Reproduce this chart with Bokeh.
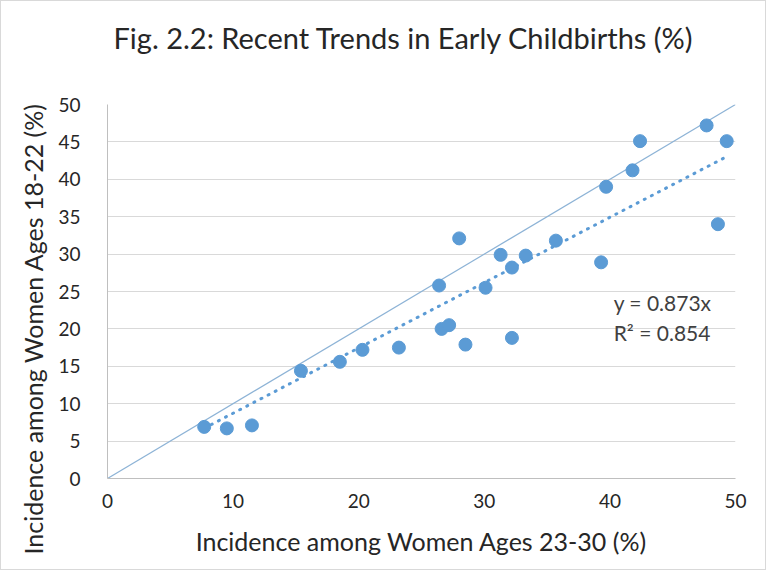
from bokeh.plotting import figure
from bokeh.models import Range1d, FixedTicker, ColumnDataSource, Label, Title
from bokeh.embed import file_html
from bokeh.resources import INLINE

# Data
x_vals = [7.7, 9.5, 11.5, 15.4, 18.5, 20.3, 23.2, 26.4, 26.6, 27.2, 28.0, 28.5, 30.1,
          31.3, 32.2, 32.2, 33.3, 35.7, 39.3, 39.7, 41.8, 42.4, 47.7, 48.6, 49.3]
y_vals = [6.9, 6.7, 7.1, 14.4, 15.6, 17.2, 17.5, 25.8, 20.0, 20.5, 32.1, 17.9, 25.5,
          29.9, 28.2, 18.8, 29.8, 31.8, 28.9, 39.0, 41.2, 45.1, 47.2, 34.0, 45.1]
slope = 0.873
r2 = 0.854
x_ticks = [0, 10, 20, 30, 40, 50]
y_ticks = [0, 5, 10, 15, 20, 25, 30, 35, 40, 45, 50]
title_text = "Fig. 2.2: Recent Trends in Early Childbirths (%)"
x_label = "Incidence among Women Ages 23-30 (%)"
y_label = "Incidence among Women Ages 18-22 (%)"

FONT = "Lato"
BLUE = "#5b9bd5"
TXT = "#262626"

p = figure(width=766, height=570, output_backend="svg", toolbar_location=None,
           title=None,
           x_range=Range1d(0, 50), y_range=Range1d(0, 50),
           min_border_left=106, min_border_right=32, min_border_top=103, min_border_bottom=93)

# spacer (closest to the frame), then the main title above it
p.add_layout(Title(text=" ", text_font_size="1px", standoff=33), "above")
p.add_layout(Title(text=title_text, align="left", offset=6, text_font=FONT,
                   text_font_size="29px", text_font_style="normal", text_color=TXT,
                   standoff=28), "above")

p.outline_line_color = None
p.xgrid.grid_line_color = None
p.ygrid.grid_line_color = "#d9d9d9"
p.ygrid.grid_line_width = 1

p.xaxis.ticker = FixedTicker(ticks=x_ticks)
p.yaxis.ticker = FixedTicker(ticks=y_ticks)
for ax in (p.xaxis, p.yaxis):
    ax.axis_line_color = "#bfbfbf"
    ax.major_tick_line_color = None
    ax.minor_tick_line_color = None
    ax.major_label_text_font = FONT
    ax.major_label_text_font_size = "19px"
    ax.major_label_text_color = TXT
    ax.axis_label_text_font = FONT
    ax.axis_label_text_font_size = "25px"
    ax.axis_label_text_font_style = "normal"
    ax.axis_label_text_color = TXT
p.xaxis.axis_label = x_label
p.xaxis.major_label_standoff = 9
p.yaxis.major_label_standoff = 21
p.xaxis.axis_label_standoff = 15

# y-axis label: a side title, starting below the frame's bottom as in the original
p.add_layout(Title(text=y_label, align="left", offset=-76, text_font=FONT,
                   text_font_size="25px", text_font_style="normal", text_color=TXT,
                   standoff=16), "left")

# 45-degree reference line
p.line([0, 50], [0, 50], line_color="#8db3d6", line_width=1.2)

# Trendline through the origin
xmin, xmax = min(x_vals), max(x_vals)
p.line([xmin, xmax], [slope * xmin, slope * xmax], line_color=BLUE, line_width=3,
       line_dash="1 7", line_cap="round")

src = ColumnDataSource(dict(x=x_vals, y=y_vals))
p.scatter("x", "y", source=src, size=13, fill_color=BLUE, line_color=BLUE)

p.add_layout(Label(x=40.3, y=23.5, text=f"y = {slope}x", text_font=FONT,
                   text_font_size="21px", text_color="#404040", text_baseline="middle"))
p.add_layout(Label(x=40.3, y=19.5, text=f"R² = {r2}", text_font=FONT,
                   text_font_size="21px", text_color="#404040", text_baseline="middle"))

p.styles = {"border": "1px solid #d9d9d9"}

open("out.html", "w").write(file_html(p, INLINE))
